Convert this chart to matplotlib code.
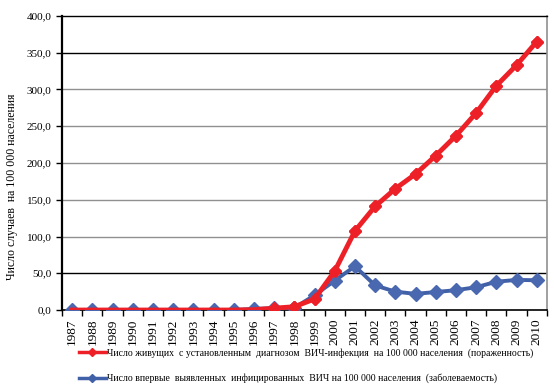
import numpy as np
import matplotlib.pyplot as plt
from matplotlib.lines import Line2D

# ─────────── данные ───────────
years = [str(y) for y in range(1987, 2011)]
prevalence = [0, 0, 0, 0, 0, 0, 0, 0, 0, 0.5, 2.5, 4.5, 15, 53, 107.5, 141,
              165, 185, 210, 237, 268, 305, 333, 365]
incidence = [0, 0, 0, 0, 0, 0, 0, 0, 0, 1.5, 2.5, 3, 20, 40, 59.5, 33.5,
             25, 22, 24.5, 27, 31, 38.5, 41, 40.5]
yticks = [0, 50, 100, 150, 200, 250, 300, 350, 400]

label_red = ("Число живущих  с установленным  диагнозом  ВИЧ-инфекция  "
             "на 100 000 населения  (пораженность)")
label_blue = ("Число впервые  выявленных  инфицированных  ВИЧ на 100 000 "
              "населения  (заболеваемость)")

plt.rcParams['font.family'] = ['Liberation Serif', 'DejaVu Serif']

RED = "#ee2027"
BLUE = "#4060a8"

fig = plt.figure(figsize=(5.54, 3.89), dpi=100)
ax = fig.add_axes([0.112, 0.203, 0.875, 0.756])

x = np.arange(len(years))

# синяя серия
ax.plot(x, incidence, color=BLUE, lw=2.8, zorder=3)
ax.plot(x, incidence, ls="none", marker="D", ms=7.5, color="#4a68b0", zorder=4)
# красная серия (линия поверх синих маркеров)
ax.plot(x, prevalence, ls="none", marker="D", ms=6.5, color=RED, zorder=3.5)
ax.plot(x, prevalence, color=RED, lw=3.5, zorder=5)
ax.plot(x[10:], prevalence[10:], ls="none", marker="D", ms=6.5, color=RED, zorder=6)

ax.set_xlim(-0.5, len(years) - 0.5)
ax.set_ylim(0, 400)

ax.set_yticks(yticks, labels=[f"{v:.1f}".replace(".", ",") for v in yticks])
ax.tick_params(axis="y", labelsize=8, length=4, direction="out", width=1)

ax.set_xticks(x, labels=years, rotation=90)
ax.tick_params(axis="x", which="major", length=0, labelsize=9.5, pad=6)
ax.set_xticks(np.arange(-0.5, len(years)), minor=True)
ax.tick_params(axis="x", which="minor", length=4, width=1, direction="out")

for v in yticks[1:-1]:
    c = "black" if v in (50, 350) else "#909090"
    ax.axhline(v, color=c, lw=1, zorder=1)

ax.spines["left"].set_linewidth(1.6)
ax.spines["bottom"].set_linewidth(1.2)
ax.spines["top"].set_linewidth(1.0)
ax.spines["right"].set_color("#909090")
ax.spines["right"].set_linewidth(1.2)

ax.set_ylabel("Число случаев  на 100 000 населения", fontsize=8.5)
ax.yaxis.set_label_coords(-0.09, 0.42)

handles = [
    Line2D([], [], color=RED, lw=2.5, marker="D", ms=4),
    Line2D([], [], color=BLUE, lw=2.5, marker="D", ms=4),
]
fig.legend(handles, [label_red, label_blue], loc="upper left",
           bbox_to_anchor=(0.135, 0.115), frameon=False, fontsize=7,
           handlelength=2.8, handletextpad=0.1, labelspacing=1.6,
           borderaxespad=0)

fig.savefig("out.png", dpi=100)
